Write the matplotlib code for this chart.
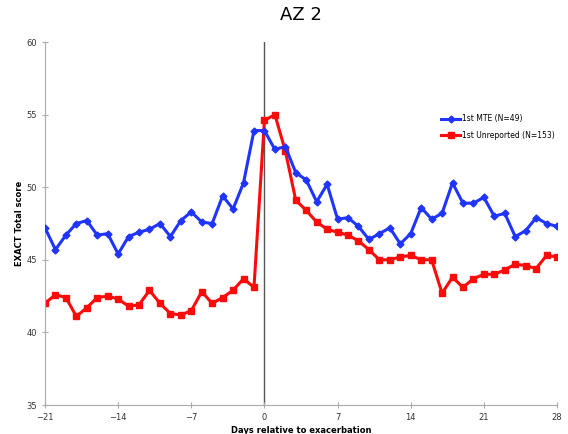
import matplotlib
matplotlib.use("Agg")
import matplotlib.pyplot as plt
import numpy as np

# days relative to exacerbation
days = list(range(-21, 29))

# 1st MTE (N=49)
mte = [47.2, 45.7, 46.7, 47.5, 47.7, 46.7, 46.8, 45.4, 46.6, 46.9,
       47.1, 47.5, 46.6, 47.7, 48.3, 47.6, 47.5, 49.4, 48.5, 50.3,
       53.9, 53.9, 52.6, 52.8, 51.0, 50.5, 49.0, 50.2, 47.8, 47.9,
       47.3, 46.4, 46.8, 47.2, 46.1, 46.8, 48.6, 47.8, 48.2, 50.3,
       48.9, 48.9, 49.3, 48.0, 48.2, 46.6, 47.0, 47.9, 47.5, 47.3]

# 1st Unreported (N=153)
unrep = [42.0, 42.6, 42.4, 41.1, 41.7, 42.4, 42.5, 42.3, 41.8, 41.9,
         42.9, 42.0, 41.3, 41.2, 41.5, 42.8, 42.0, 42.4, 42.9, 43.7,
         43.1, 54.6, 55.0, 52.5, 49.1, 48.4, 47.6, 47.1, 46.9, 46.7,
         46.3, 45.7, 45.0, 45.0, 45.2, 45.3, 45.0, 45.0, 42.7, 43.8,
         43.1, 43.7, 44.0, 44.0, 44.3, 44.7, 44.6, 44.4, 45.3, 45.2]

fig = plt.figure(figsize=(5.68, 4.34), dpi=100)
ax = fig.add_axes([45 / 568, 1 - 405 / 434, 512 / 568, 363 / 434])

ax.axvline(0, color="#555555", linewidth=1, zorder=1)
ax.plot(days, mte, color="#1f35ff", linewidth=2.2, marker="D", markersize=3.5,
        label="1st MTE (N=49)", zorder=3)
ax.plot(days, unrep, color="#ff0a0a", linewidth=2.2, marker="s", markersize=4.5,
        label="1st Unreported (N=153)", zorder=2)

ax.set_xlim(-21, 28)
ax.set_ylim(35, 60)
ax.set_xticks(np.arange(-21, 29, 7))
ax.set_yticks(np.arange(35, 61, 5))
for s in ["top", "right"]:
    ax.spines[s].set_visible(False)
for s in ["left", "bottom"]:
    ax.spines[s].set_color("#aaaaaa")
ax.tick_params(direction="inout", length=4, color="#aaaaaa", labelsize=6,
               labelcolor="#333333")

ax.set_title("AZ 2", fontsize=13, pad=16)
ax.set_ylabel("EXACT Total score", fontsize=6, fontweight="bold", labelpad=2)
ax.set_xlabel("Days relative to exacerbation", fontsize=6, fontweight="bold",
              labelpad=3)

ax.legend(loc="upper left", bbox_to_anchor=(0.76, 0.82), frameon=False,
          fontsize=5.5, handlelength=2.5, handletextpad=0.2, labelspacing=1.0)

fig.savefig("out.png", dpi=100)
